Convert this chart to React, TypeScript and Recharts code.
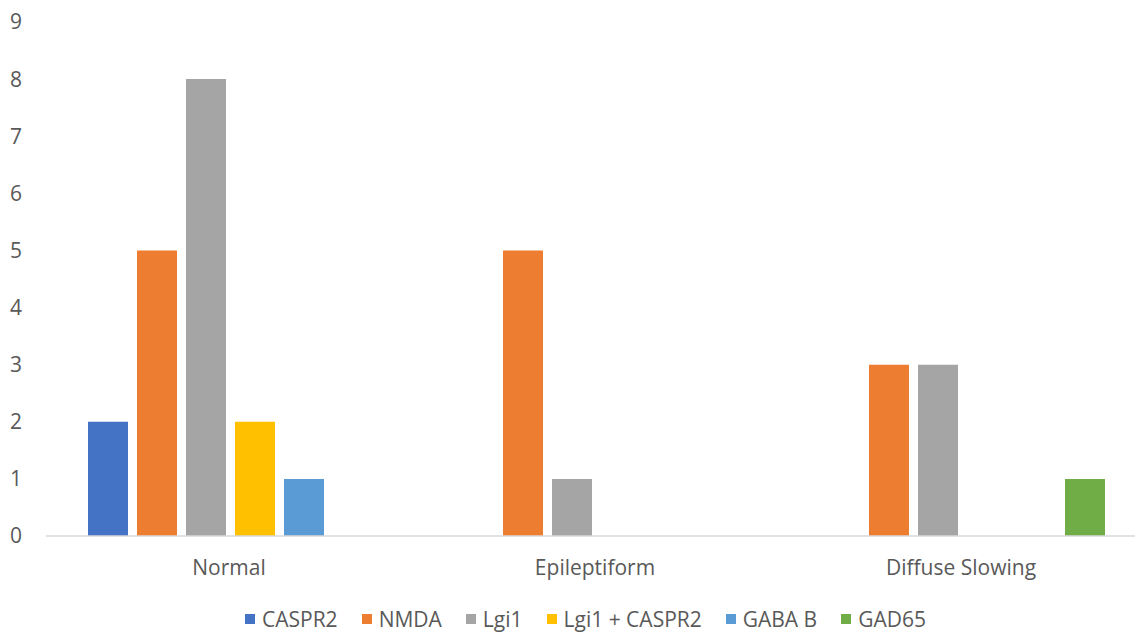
import { BarChart, Bar, XAxis, YAxis, Legend } from 'recharts';

const categories = ['Normal', 'Epileptiform', 'Diffuse Slowing'];
const seriesNames = ['CASPR2', 'NMDA', 'Lgi1', 'Lgi1 + CASPR2', 'GABA B', 'GAD65'];
const seriesColors = ['#4472C4', '#ED7D31', '#A5A5A5', '#FFC000', '#5B9BD5', '#70AD47'];

const caspr2 = [2, 0, 0];
const nmda = [5, 5, 3];
const lgi1 = [8, 1, 3];
const lgi1Caspr2 = [2, 0, 0];
const gabaB = [1, 0, 0];
const gad65 = [0, 0, 1];

const yTicks = [0, 1, 2, 3, 4, 5, 6, 7, 8, 9];

const seriesValues = [caspr2, nmda, lgi1, lgi1Caspr2, gabaB, gad65];

const data = categories.map((name, i) => {
  const row: Record<string, string | number> = { name };
  seriesNames.forEach((s, j) => {
    row[s] = seriesValues[j][i];
  });
  return row;
});

const font = '"Open Sans", sans-serif';
const textColor = '#595959';

function LegendContent() {
  return (
    <div
      style={{
        display: 'flex',
        alignItems: 'center',
        height: 36,
        paddingTop: 10,
        boxSizing: 'border-box',
        paddingLeft: 245,
        fontFamily: font,
        fontSize: 21,
        lineHeight: '22px',
        color: textColor,
        whiteSpace: 'nowrap',
      }}
    >
      {seriesNames.map((s, i) => (
        <span key={s} style={{ display: 'flex', alignItems: 'center', marginRight: 24 }}>
          <span
            style={{
              width: 10,
              height: 10,
              background: seriesColors[i],
              display: 'inline-block',
              marginRight: 7,
            }}
          />
          {s}
        </span>
      ))}
    </div>
  );
}

export default function App() {
  return (
    <div
      style={{
        position: 'absolute',
        left: 0,
        top: 0,
        width: 1135,
        height: 632,
        overflow: 'hidden',
        background: '#fff',
      }}
    >
      <BarChart
        width={1144}
        height={632}
        data={data}
        margin={{ top: 22, right: 0, left: 0, bottom: 0 }}
        barCategoryGap={42}
        barGap={9}
      >
        <XAxis
          dataKey="name"
          axisLine={{ stroke: '#d9d9d9', strokeWidth: 1.5 }}
          tickLine={false}
          height={60}
          tickMargin={18}
          tick={{ fill: textColor, fontSize: 21, fontFamily: font }}
        />
        <YAxis
          width={46}
          domain={[0, 9]}
          ticks={yTicks}
          axisLine={false}
          tickLine={false}
          tickMargin={18}
          tick={{ fill: textColor, fontSize: 21, fontFamily: font }}
        />
        <Legend verticalAlign="bottom" height={36} content={() => <LegendContent />} />
        {seriesNames.map((s, i) => (
          <Bar key={s} dataKey={s} fill={seriesColors[i]} isAnimationActive={false} />
        ))}
      </BarChart>
    </div>
  );
}
